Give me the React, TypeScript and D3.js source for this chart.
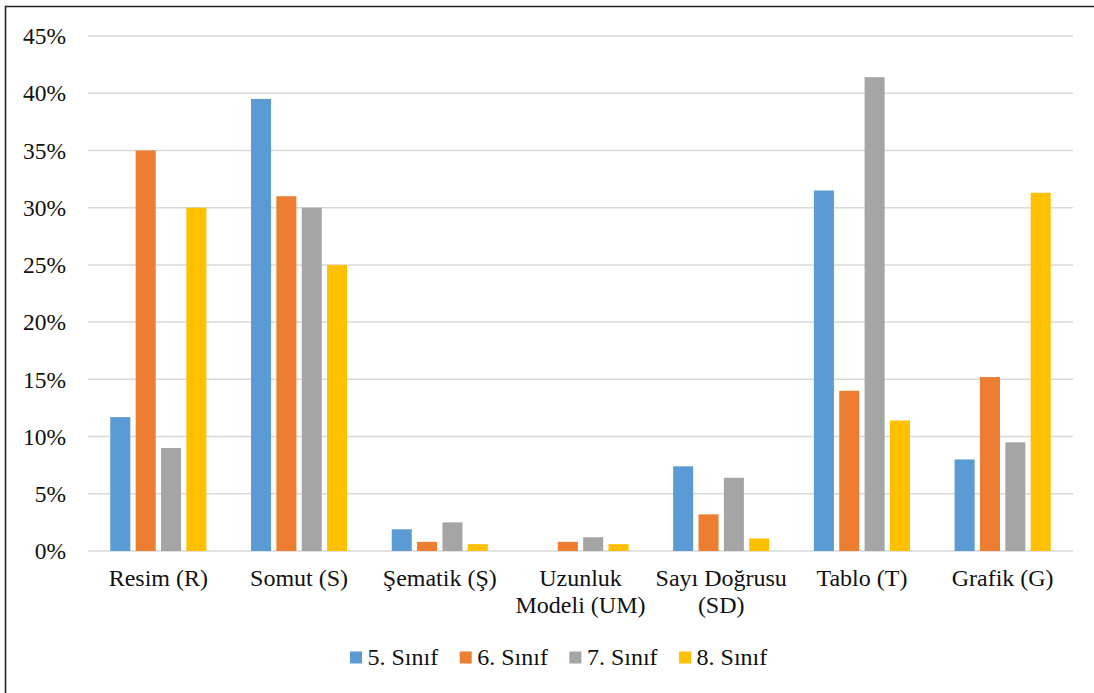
import React from "react";
import * as d3 from "d3";

const categories: string[][] = [
  ["Resim (R)"],
  ["Somut (S)"],
  ["Şematik (Ş)"],
  ["Uzunluk", "Modeli (UM)"],
  ["Sayı Doğrusu", "(SD)"],
  ["Tablo (T)"],
  ["Grafik (G)"],
];
const seriesNames = ["5. Sınıf", "6. Sınıf", "7. Sınıf", "8. Sınıf"];
const seriesColors = ["#5B9BD5", "#ED7D31", "#A5A5A5", "#FFC000"];
const sinif5 = [11.7, 39.5, 1.9, 0, 7.4, 31.5, 8.0];
const sinif6 = [35.0, 31.0, 0.8, 0.8, 3.2, 14.0, 15.2];
const sinif7 = [9.0, 30.0, 2.5, 1.2, 6.4, 41.4, 9.5];
const sinif8 = [30.0, 25.0, 0.6, 0.6, 1.1, 11.4, 31.3];
const seriesValues = [sinif5, sinif6, sinif7, sinif8];
const yTicks = [0, 5, 10, 15, 20, 25, 30, 35, 40, 45];

const W = 1094;
const H = 693;
const textStyle = { fontFamily: "Liberation Serif" };

export default function App() {
  const catKeys = categories.map((c) => c.join(" "));
  const x = d3.scaleBand<string>().domain(catKeys).range([88, 1073]).padding(0);
  const y = d3.scaleLinear().domain([0, 45]).range([551, 36]);
  const groupW = x.bandwidth() * 0.683;
  const off = (x.bandwidth() - groupW) / 2;
  const xi = d3
    .scaleBand<string>()
    .domain(seriesNames)
    .range([off, off + groupW])
    .paddingInner(0.21)
    .paddingOuter(0);

  const legendX0 = 350;
  const legendStep = 109.7;

  return (
    <svg
      width={W}
      height={H}
      style={{ position: "absolute", left: 0, top: 0, display: "block", background: "#fff" }}
    >
      <rect x={0} y={0} width={W} height={H} fill="#fff" />
      <path d={`M5.5,${H + 2}V6.5H${W + 2}`} fill="none" stroke="#222" strokeWidth={1.6} />
      {yTicks.map((t) => (
        <g key={t}>
          <line x1={88} x2={1073} y1={y(t)} y2={y(t)} stroke="#D9D9D9" strokeWidth={1.5} />
          <text x={66} y={y(t)} dy="0.35em" textAnchor="end" fontSize={23.5} fill="#111" style={textStyle}>
            {t}%
          </text>
        </g>
      ))}
      {seriesValues.map((vals, si) =>
        vals.map((v, ci) => (
          <rect
            key={`${si}-${ci}`}
            x={(x(catKeys[ci]) as number) + (xi(seriesNames[si]) as number)}
            y={y(v)}
            width={xi.bandwidth()}
            height={y(0) - y(v)}
            fill={seriesColors[si]}
          />
        ))
      )}
      {categories.map((lines, ci) => (
        <text
          key={ci}
          x={(x(catKeys[ci]) as number) + x.bandwidth() / 2}
          y={586}
          textAnchor="middle"
          fontSize={24}
          fill="#111"
          style={textStyle}
        >
          {lines.map((l, li) => (
            <tspan key={li} x={(x(catKeys[ci]) as number) + x.bandwidth() / 2} dy={li === 0 ? 0 : 27}>
              {l}
            </tspan>
          ))}
        </text>
      ))}
      {seriesNames.map((s, si) => (
        <g key={s} transform={`translate(${legendX0 + si * legendStep},0)`}>
          <rect x={0} y={651.5} width={12} height={12} fill={seriesColors[si]} />
          <text x={17.5} y={665} fontSize={24} fill="#111" style={textStyle}>
            {s}
          </text>
        </g>
      ))}
    </svg>
  );
}
